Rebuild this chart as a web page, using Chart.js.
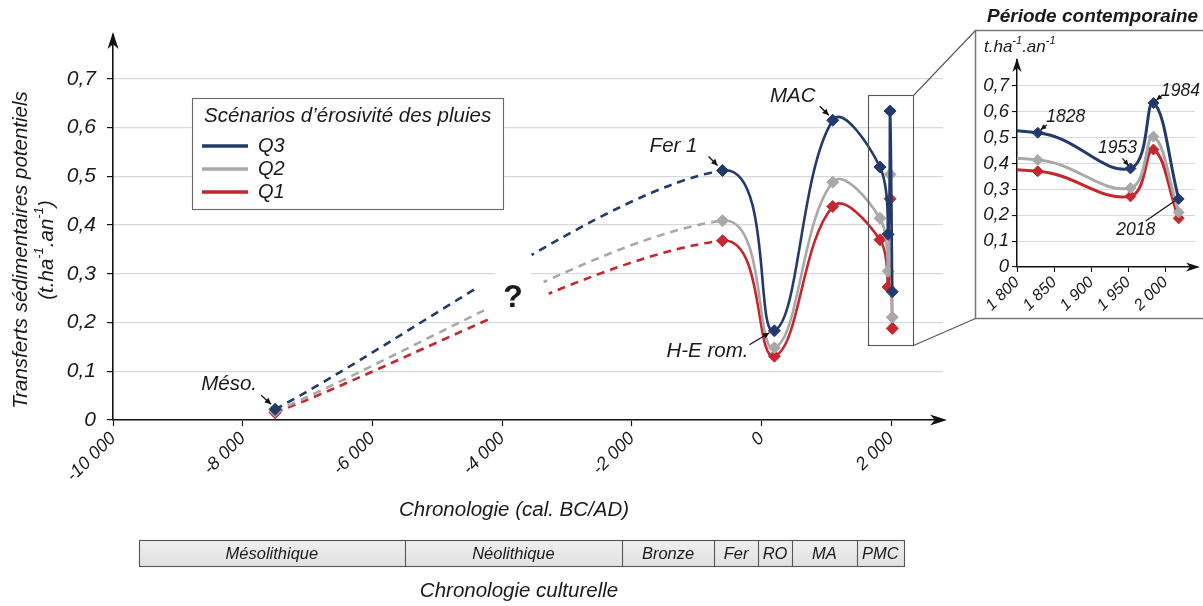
<!DOCTYPE html>
<html><head><meta charset="utf-8">
<script src="https://cdn.jsdelivr.net/npm/chart.js@4.4.1/dist/chart.umd.min.js"></script>
<style>
html,body{margin:0;padding:0;background:#fff;}
#wrap{position:relative;width:1203px;height:606px;overflow:hidden;background:#fff;}
#main{position:absolute;left:0;top:0;}
#inset{position:absolute;left:975px;top:30px;}
</style></head><body>
<div id="wrap"><canvas id="main" width="1203" height="606"></canvas><canvas id="inset" width="227" height="288"></canvas></div>
<script>
// ---------------- data ----------------
const years = [-7500, -600, 200, 1100, 1828, 1953, 1984, 2018];
const stageLabels = ['Méso.', 'Fer 1', 'H-E rom.', 'MAC', '1828', '1953', '1984', '2018'];
const q3Values = [0.022, 0.512, 0.183, 0.615, 0.519, 0.381, 0.634, 0.263];
const q2Values = [0.018, 0.409, 0.148, 0.488, 0.414, 0.305, 0.504, 0.211];
const q1Values = [0.015, 0.368, 0.131, 0.438, 0.370, 0.273, 0.454, 0.188];
const seriesNames = ['Q3', 'Q2', 'Q1'];
// cultural chronology
const periodNames = ['Mésolithique', 'Néolithique', 'Bronze', 'Fer', 'RO', 'MA', 'PMC'];
const periodStarts = [-9600, -5500, -2150, -730, -50, 470, 1470];
const periodEnd = 2200;
// ticks
const xTicksMain = [-10000, -8000, -6000, -4000, -2000, 0, 2000];
const yTicksMain = [0, 0.1, 0.2, 0.3, 0.4, 0.5, 0.6, 0.7];
const xTicksInset = [1800, 1850, 1900, 1950, 2000];
const yTicksInset = [0, 0.1, 0.2, 0.3, 0.4, 0.5, 0.6, 0.7];

// ---------------- style ----------------
const FONT = '"Liberation Sans", Arial, Helvetica, sans-serif';
const TXT = '#1a1a1a';
const COLORS = { Q3: '#233a6c', Q2: '#a8a8a8', Q1: '#c4272e' };
const CLEAR = 'rgba(0,0,0,0)';

function fmtThousands(v) {
  const a = Math.abs(v);
  const s = a >= 1000 ? Math.floor(a / 1000) + ' ' + String(a % 1000).padStart(3, '0') : String(a);
  return (v < 0 ? '-' : '') + s;
}
function fmtDec(v) { return Math.abs(v) < 1e-9 ? '0' : v.toFixed(1).replace('.', ','); }
function series(vals, n) { return years.slice(0, n || years.length).map((x, i) => ({x, y: vals[i]})); }

// solid smoothed line from Fer 1 onward (the Méso -> Fer 1 stretch is hidden; drawn dashed below)
function solidDataset(label, vals, width, radius) {
  const c = COLORS[label];
  return {
    label, data: series(vals), borderColor: c, backgroundColor: c, borderWidth: width,
    pointStyle: 'rectRot', pointRadius: radius, pointBorderWidth: 1, pointBorderColor: c,
    pointBackgroundColor: c, pointHoverRadius: 0, tension: 0.4,
    segment: { borderColor: ctx => (ctx.p0DataIndex === 0 ? CLEAR : undefined) }
  };
}
// dashed hypothetical trend Méso -> Fer 1
function dashedDataset(label, vals) {
  const c = COLORS[label];
  return {
    label: label + ' tendance', dashedTrend: true, data: series(vals, 3), borderColor: c, borderWidth: 2.6,
    borderDash: [8, 6], pointRadius: 0, pointHoverRadius: 0, tension: 0.3,
    segment: { borderColor: ctx => (ctx.p0DataIndex >= 1 ? CLEAR : undefined) }
  };
}

// ---------------- helpers ----------------
function setFont(ctx, size, weight, style) { ctx.font = (style || 'italic') + ' ' + (weight || 'normal') + ' ' + size + 'px ' + FONT; }
function drawArrow(ctx, x1, y1, x2, y2, head, color, lw) {
  ctx.save();
  ctx.strokeStyle = color || '#111'; ctx.fillStyle = color || '#111'; ctx.lineWidth = lw || 1.3;
  ctx.beginPath(); ctx.moveTo(x1, y1); ctx.lineTo(x2, y2); ctx.stroke();
  if (head) {
    const a = Math.atan2(y2 - y1, x2 - x1);
    ctx.beginPath();
    ctx.moveTo(x2, y2);
    ctx.lineTo(x2 - head * Math.cos(a - 0.45), y2 - head * Math.sin(a - 0.45));
    ctx.lineTo(x2 - head * Math.cos(a + 0.45), y2 - head * Math.sin(a + 0.45));
    ctx.closePath(); ctx.fill();
  }
  ctx.restore();
}
function axisHead(ctx, tipX, tipY, dir, len, half) {
  ctx.save(); ctx.fillStyle = '#111'; ctx.beginPath();
  if (dir === 'up') {
    ctx.moveTo(tipX, tipY); ctx.lineTo(tipX + half, tipY + len); ctx.lineTo(tipX, tipY + len * 0.72); ctx.lineTo(tipX - half, tipY + len);
  } else {
    ctx.moveTo(tipX, tipY); ctx.lineTo(tipX - len, tipY - half); ctx.lineTo(tipX - len * 0.72, tipY); ctx.lineTo(tipX - len, tipY + half);
  }
  ctx.closePath(); ctx.fill(); ctx.restore();
}
function richText(ctx, parts, x, y, size, align, weight) {
  const supSize = Math.round(size * 0.62);
  let w = 0;
  parts.forEach(p => { if (Array.isArray(p)) { setFont(ctx, supSize, weight); w += ctx.measureText(p[0]).width; } else { setFont(ctx, size, weight); w += ctx.measureText(p).width; } });
  let cx = align === 'center' ? x - w / 2 : x;
  ctx.textBaseline = 'middle'; ctx.textAlign = 'left'; ctx.fillStyle = TXT;
  parts.forEach(p => {
    if (Array.isArray(p)) { setFont(ctx, supSize, weight); ctx.fillText(p[0], cx, y - size * 0.36); cx += ctx.measureText(p[0]).width; }
    else { setFont(ctx, size, weight); ctx.fillText(p, cx, y); cx += ctx.measureText(p).width; }
  });
}
function text(ctx, s, x, y, size, align, weight, style) {
  setFont(ctx, size, weight, style); ctx.fillStyle = TXT; ctx.textAlign = align || 'center'; ctx.textBaseline = 'middle'; ctx.fillText(s, x, y);
}

// ---------------- main decorations ----------------
const gapPoly = [[463, 240], [525, 240], [567, 335], [493, 335]];
const mainNotes = [
  {i: 0, t: [-46, -25], a: [-14, -14, -4, -5]},
  {i: 1, t: [-49, -24], a: [-14, -14, -5, -5]},
  {i: 2, t: [-67, 20], a: [-25, 14, -5, 2]},
  {i: 3, t: [-40, -24], a: [-13, -14, -4, -5]}
];
const mainDecor = {
  id: 'mainDecor',
  beforeDatasetsDraw(chart) {
    const ctx = chart.ctx;
    ctx.save(); ctx.fillStyle = '#fff'; ctx.fillRect(495, 264, 36, 52); ctx.restore();
  },
  beforeDatasetDraw(chart, args) {
    if (!chart.data.datasets[args.index].dashedTrend) return;
    const ctx = chart.ctx;
    ctx.save();
    ctx.beginPath();
    ctx.rect(0, 0, chart.width, chart.height);
    ctx.moveTo(gapPoly[0][0], gapPoly[0][1]);
    for (let k = 1; k < gapPoly.length; k++) ctx.lineTo(gapPoly[k][0], gapPoly[k][1]);
    ctx.closePath();
    ctx.clip('evenodd');
  },
  afterDatasetDraw(chart, args) {
    if (chart.data.datasets[args.index].dashedTrend) chart.ctx.restore();
  },
  afterDraw(chart) {
    const {ctx, scales: {x, y}, chartArea: ca} = chart;
    ctx.save();
    axisHead(ctx, ca.left, ca.top - 3, 'up', 17, 5.5);
    axisHead(ctx, ca.right + 4, ca.bottom, 'right', 17, 5.5);
    text(ctx, '?', 513, 298, 32, 'center', 'bold', 'normal');
    mainNotes.forEach(n => {
      const px = x.getPixelForValue(years[n.i]), py = y.getPixelForValue(q3Values[n.i]);
      text(ctx, stageLabels[n.i], px + n.t[0], py + n.t[1], 20.5);
      drawArrow(ctx, px + n.a[0], py + n.a[1], px + n.a[2], py + n.a[3], 7, '#111', 1.3);
    });
    // zoom rectangle around the contemporary period
    const rx1 = 868, rx2 = 913, ry1 = 95, ry2 = 345;
    ctx.strokeStyle = '#555'; ctx.lineWidth = 1.1;
    ctx.strokeRect(rx1 + 0.5, ry1 + 0.5, rx2 - rx1, ry2 - ry1);
    ctx.strokeStyle = '#777'; ctx.lineWidth = 1.5;
    ctx.strokeRect(975.5, 30.5, 240, 288);
    ctx.lineWidth = 1.1; ctx.strokeStyle = '#555';
    ctx.beginPath(); ctx.moveTo(rx2 + 0.5, ry1 + 0.5); ctx.lineTo(975.5, 30.5); ctx.moveTo(rx2 + 0.5, ry2 + 0.5); ctx.lineTo(975.5, 318.5); ctx.stroke();
    text(ctx, 'Période contemporaine', 987, 17, 19, 'left', 'bold');
    richText(ctx, ['t.ha', ['-1'], '.an', ['-1']], 984, 47, 17, 'left');
    // legend
    ctx.fillStyle = '#fff'; ctx.fillRect(192, 98, 311, 111);
    ctx.strokeStyle = '#666'; ctx.lineWidth = 1.1; ctx.strokeRect(192.5, 98.5, 311, 111);
    text(ctx, 'Scénarios d’érosivité des pluies', 204, 116, 20.5, 'left');
    seriesNames.forEach((s, k) => {
      const ly = 146 + k * 23;
      ctx.strokeStyle = COLORS[s]; ctx.lineWidth = 3.5; ctx.setLineDash([]);
      ctx.beginPath(); ctx.moveTo(202, ly); ctx.lineTo(248, ly); ctx.stroke();
      text(ctx, s, 258, ly, 20, 'left');
    });
    // axis titles
    text(ctx, 'Chronologie (cal. BC/AD)', 514, 510, 20.5);
    ctx.save(); ctx.translate(21, 250); ctx.rotate(-Math.PI / 2);
    text(ctx, 'Transferts sédimentaires potentiels', 0, 0, 20.5);
    richText(ctx, ['(t.ha', ['-1'], '.an', ['-1'], ')'], 0, 26, 20.5, 'center');
    ctx.restore();
    // cultural chronology bar
    const by1 = 540, by2 = 566;
    const bx1 = x.getPixelForValue(periodStarts[0]), bx2 = x.getPixelForValue(periodEnd);
    const g = ctx.createLinearGradient(0, by1, 0, by2);
    g.addColorStop(0, '#efefef'); g.addColorStop(1, '#e2e2e2');
    ctx.fillStyle = g; ctx.fillRect(bx1, by1, bx2 - bx1, by2 - by1);
    ctx.strokeStyle = '#555'; ctx.lineWidth = 1.1;
    ctx.strokeRect(Math.round(bx1) + 0.5, by1 + 0.5, Math.round(bx2 - bx1), by2 - by1);
    periodNames.forEach((nm, k) => {
      const s = x.getPixelForValue(periodStarts[k]);
      const e = x.getPixelForValue(k + 1 < periodStarts.length ? periodStarts[k + 1] : periodEnd);
      if (k > 0) { ctx.beginPath(); ctx.moveTo(Math.round(s) + 0.5, by1); ctx.lineTo(Math.round(s) + 0.5, by2); ctx.stroke(); }
      text(ctx, nm, (s + e) / 2, (by1 + by2) / 2 + 1, 16.5);
    });
    text(ctx, 'Chronologie culturelle', 519, 591, 20.5);
    ctx.restore();
  }
};

new Chart(document.getElementById('main'), {
  type: 'line',
  data: { datasets: [
    solidDataset('Q3', q3Values, 2.6, 6),
    solidDataset('Q2', q2Values, 2.6, 6),
    solidDataset('Q1', q1Values, 2.6, 6),
    dashedDataset('Q3', q3Values),
    dashedDataset('Q2', q2Values),
    dashedDataset('Q1', q1Values)
  ]},
  options: {
    responsive: false, animation: false, events: [],
    layout: { padding: { left: 0, top: 35, right: 260, bottom: 0 } },
    plugins: { legend: { display: false }, tooltip: { enabled: false } },
    elements: { line: { capBezierPoints: false } },
    scales: {
      x: {
        type: 'linear', min: -10000, max: 2800,
        afterFit: s => { s.height = 186; },
        afterBuildTicks: s => { s.ticks = xTicksMain.map(v => ({value: v})); },
        grid: { drawOnChartArea: false, drawTicks: true, tickLength: 6, tickColor: '#111', tickWidth: 1.2 },
        border: { display: true, color: '#111', width: 1.6 },
        ticks: { autoSkip: false, maxRotation: 45, minRotation: 45, padding: 2, color: TXT,
          font: { family: FONT, size: 18, style: 'italic' }, callback: v => fmtThousands(v) }
      },
      y: {
        type: 'linear', min: 0, max: 0.79,
        afterFit: s => { s.width = 113; },
        afterBuildTicks: s => { s.ticks = yTicksMain.map(v => ({value: v})); },
        grid: { color: '#d9d9d9', lineWidth: 1.2, drawTicks: true, tickLength: 6, tickColor: '#111', tickWidth: 1.2 },
        border: { display: true, color: '#111', width: 1.6 },
        ticks: { padding: 11, color: TXT, font: { family: FONT, size: 21, style: 'italic' }, callback: v => fmtDec(v) }
      }
    }
  },
  plugins: [mainDecor]
});

// ---------------- inset ----------------
const insetNotes = [
  {i: 4, t: [28, -16], a: [9, -8, 3, -3], head: true},
  {i: 5, t: [-13, -20], a: [-8, -10, -2, -3], head: true},
  {i: 6, t: [27, -12], a: [9, -8, 3, -3], head: true},
  {i: 7, t: [-43, 31], a: [-33, 22, -4, 2], head: false}
];
const insetDecor = {
  id: 'insetDecor',
  afterDraw(chart) {
    const {ctx, scales: {x, y}, chartArea: ca} = chart;
    ctx.save();
    axisHead(ctx, ca.left, ca.top - 2, 'up', 14, 4.5);
    axisHead(ctx, ca.right + 5, ca.bottom, 'right', 14, 4.5);
    insetNotes.forEach(n => {
      const px = x.getPixelForValue(years[n.i]), py = y.getPixelForValue(q3Values[n.i]);
      text(ctx, stageLabels[n.i], px + n.t[0], py + n.t[1], 17.5);
      drawArrow(ctx, px + n.a[0], py + n.a[1], px + n.a[2], py + n.a[3], n.head ? 6 : 0, '#111', 1.2);
    });
    ctx.restore();
  }
};
function insetDataset(label, vals) {
  const c = COLORS[label];
  return { label, data: series(vals), borderColor: c, backgroundColor: c, borderWidth: 3,
    pointStyle: 'rectRot', pointRadius: 5.5, pointBorderWidth: 1, pointBorderColor: c,
    pointBackgroundColor: c, pointHoverRadius: 0, tension: 0.4 };
}
new Chart(document.getElementById('inset'), {
  type: 'line',
  data: { datasets: [insetDataset('Q3', q3Values), insetDataset('Q2', q2Values), insetDataset('Q1', q1Values)] },
  options: {
    responsive: false, animation: false, events: [],
    layout: { padding: { left: 0, top: 30, right: 7, bottom: 0 } },
    plugins: { legend: { display: false }, tooltip: { enabled: false } },
    elements: { line: { capBezierPoints: false } },
    scales: {
      x: {
        type: 'linear', min: 1800, max: 2040,
        afterFit: s => { s.height = 51; },
        afterBuildTicks: s => { s.ticks = xTicksInset.map(v => ({value: v})); },
        grid: { drawOnChartArea: false, drawTicks: true, tickLength: 5, tickColor: '#111', tickWidth: 1.1 },
        border: { display: true, color: '#111', width: 1.5 },
        ticks: { autoSkip: false, maxRotation: 45, minRotation: 45, padding: 1, color: TXT,
          font: { family: FONT, size: 16, style: 'italic' }, callback: v => fmtThousands(v) }
      },
      y: {
        type: 'linear', min: 0, max: 0.8,
        afterFit: s => { s.width = 42; },
        afterBuildTicks: s => { s.ticks = yTicksInset.map(v => ({value: v})); },
        grid: { color: '#d9d9d9', lineWidth: 1.1, drawTicks: true, tickLength: 5, tickColor: '#111', tickWidth: 1.1 },
        border: { display: true, color: '#111', width: 1.5 },
        ticks: { padding: 3, color: TXT, font: { family: FONT, size: 18.5, style: 'italic' }, callback: v => fmtDec(v) }
      }
    }
  },
  plugins: [insetDecor]
});
</script></body></html>
